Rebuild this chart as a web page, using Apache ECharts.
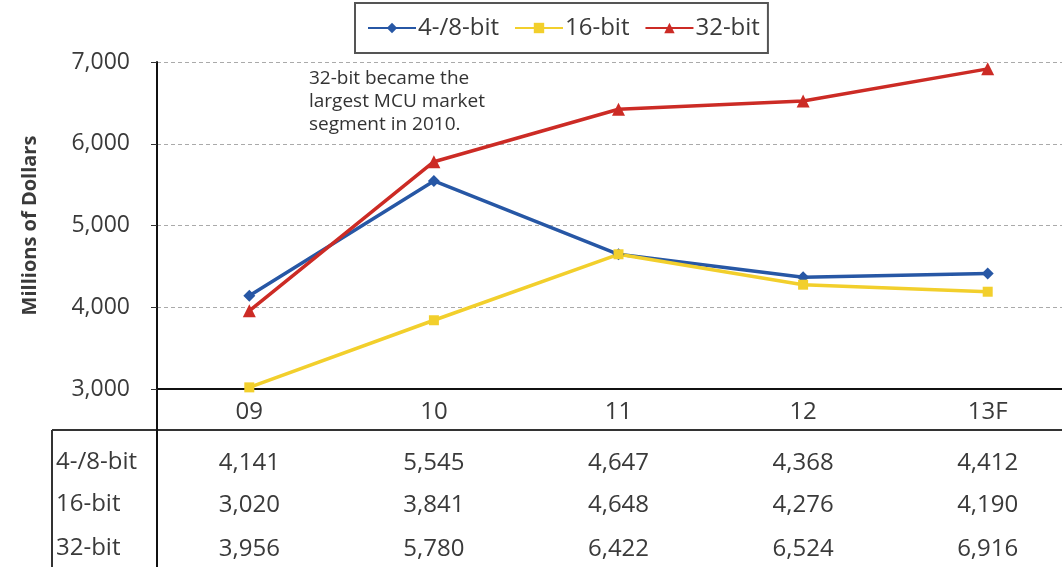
<!DOCTYPE html>
<html>
<head>
<meta charset="utf-8">
<script src="https://cdn.jsdelivr.net/npm/echarts@6/dist/echarts.min.js"></script>
<style>
  html, body { margin: 0; padding: 0; background: #fff; overflow: hidden; }
  #chart { width: 1062px; height: 567px; }
</style>
</head>
<body>
<div id="chart"></div>
<script>
// MCU revenue by architecture, millions of dollars
const years = ['09', '10', '11', '12', '13F'];
const bit8 = [4141, 5545, 4647, 4368, 4412];
const bit16 = [3020, 3841, 4648, 4276, 4190];
const bit32 = [3956, 5780, 6422, 6524, 6916];
const seriesNames = ['4-/8-bit', '16-bit', '32-bit'];
const yTicks = { min: 3000, max: 7000, interval: 1000 };

const fmt = v => v.toLocaleString('en-US');
const textColor = '#3a3a3a';
const font = '"Open Sans", "DejaVu Sans", sans-serif';

const chart = echarts.init(document.getElementById('chart'));

// one hidden category axis per data-table row, its labels are the row values
const rows = [bit8, bit16, bit32];
const rowMargins = [62, 104, 148];
const tableAxes = rows.map((vals, i) => ({
  type: 'category',
  data: vals.map(fmt),
  position: 'bottom',
  axisLine: { show: false },
  axisTick: { show: false },
  splitLine: { show: false },
  axisLabel: { margin: rowMargins[i], fontSize: 24, color: textColor, fontFamily: font }
}));

const option = {
  backgroundColor: '#fff',
  animation: false,
  // the last column runs past the right edge of the canvas
  grid: { left: 157, top: 62, width: 923, bottom: 178, containLabel: false, outerBoundsMode: 'none' },
  legend: {
    data: seriesNames,
    left: 355,
    top: 3,
    padding: [13, 8, 13, 12],
    borderColor: '#555',
    borderWidth: 2,
    backgroundColor: '#fff',
    itemWidth: 48,
    itemHeight: 13,
    itemGap: 15,
    textStyle: { fontSize: 24, color: textColor, fontFamily: font, padding: [0, 0, 0, -3] }
  },
  xAxis: [
    {
      type: 'category',
      data: years,
      boundaryGap: true,
      axisLine: { show: true, lineStyle: { color: '#111', width: 2 } },
      axisTick: { show: false },
      axisLabel: { margin: 11, fontSize: 24, color: textColor, fontFamily: font }
    }
  ].concat(tableAxes),
  yAxis: {
    type: 'value',
    min: yTicks.min,
    max: yTicks.max,
    interval: yTicks.interval,
    name: 'Millions of Dollars',
    nameLocation: 'middle',
    nameGap: 117,
    nameTextStyle: { fontSize: 20, fontWeight: 'bold', color: textColor, fontFamily: font },
    axisLine: { show: true, lineStyle: { color: '#111', width: 2 } },
    axisTick: { show: true, length: 6, lineStyle: { color: '#333' } },
    axisLabel: { margin: 27, fontSize: 23, color: textColor, fontFamily: font, formatter: v => fmt(v) },
    splitLine: { show: true, lineStyle: { color: '#aaa', type: [4, 3], width: 1 } }
  },
  series: [
    {
      name: seriesNames[0], type: 'line', data: bit8,
      symbol: 'diamond', symbolSize: 12,
      lineStyle: { color: '#2757a5', width: 3.5 },
      itemStyle: { color: '#2757a5' }
    },
    {
      name: seriesNames[1], type: 'line', data: bit16,
      symbol: 'rect', symbolSize: 10,
      lineStyle: { color: '#f2cf2c', width: 3.5 },
      itemStyle: { color: '#f2cf2c' }
    },
    {
      name: seriesNames[2], type: 'line', data: bit32,
      symbol: 'triangle', symbolSize: 13,
      lineStyle: { color: '#cc2b25', width: 3.5 },
      itemStyle: { color: '#cc2b25' }
    }
  ],
  graphic: [
    {
      type: 'text', left: 309, top: 67,
      style: {
        text: '32-bit became the\nlargest MCU market\nsegment in 2010.',
        fontSize: 19, lineHeight: 23, fill: '#333', fontFamily: font
      }
    },
    // data-table rules
    { type: 'line', shape: { x1: 52, y1: 430, x2: 1062, y2: 430 }, style: { stroke: '#333', lineWidth: 2 } },
    { type: 'line', shape: { x1: 52, y1: 430, x2: 52, y2: 567 }, style: { stroke: '#333', lineWidth: 2 } },
    { type: 'line', shape: { x1: 157, y1: 389, x2: 157, y2: 567 }, style: { stroke: '#111', lineWidth: 2 } },
    { type: 'text', left: 56, top: 450, style: { text: seriesNames[0], fontSize: 24, fill: textColor, fontFamily: font } },
    { type: 'text', left: 56, top: 492, style: { text: seriesNames[1], fontSize: 24, fill: textColor, fontFamily: font } },
    { type: 'text', left: 56, top: 536, style: { text: seriesNames[2], fontSize: 24, fill: textColor, fontFamily: font } }
  ]
};

chart.setOption(option);
</script>
</body>
</html>
